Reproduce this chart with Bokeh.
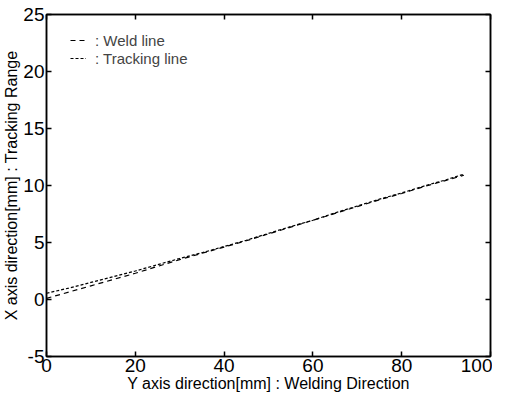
from bokeh.plotting import figure
from bokeh.models import LinearAxis, Range1d, FixedTicker, Legend, LegendItem
from bokeh.embed import file_html
from bokeh.resources import INLINE

# Data
x_pos = [0, 5, 10, 15, 20, 25, 30, 35, 40, 45, 50, 55, 60, 65, 70, 75, 80, 85, 90, 94]
weld_line = [0.1, 0.65, 1.2, 1.75, 2.3, 2.9, 3.5, 4.05, 4.6, 5.15, 5.75, 6.35,
             6.95, 7.55, 8.15, 8.75, 9.3, 9.9, 10.45, 10.9]
tracking_line = [0.55, 1.0, 1.5, 2.0, 2.5, 3.05, 3.6, 4.1, 4.65, 5.2, 5.8, 6.4,
                 6.95, 7.6, 8.2, 8.8, 9.35, 9.95, 10.5, 11.0]
x_ticks = [0, 20, 40, 60, 80, 100]
y_ticks = [-5, 0, 5, 10, 15, 20, 25]
labels = [": Weld line", ": Tracking line"]

FONT = "Liberation Sans"

p = figure(width=492, height=394, output_backend="svg", toolbar_location=None,
           x_range=Range1d(0, 100), y_range=Range1d(-5, 25),
           min_border_left=30, min_border_right=2, min_border_top=14, min_border_bottom=20)
p.grid.visible = False
p.outline_line_color = "black"
p.outline_line_width = 1.5
p.background_fill_color = "white"
p.border_fill_color = "white"

p.xaxis.ticker = FixedTicker(ticks=x_ticks)
p.yaxis.ticker = FixedTicker(ticks=y_ticks)
p.yaxis.major_label_overrides = {t: str(t) for t in y_ticks}
for ax in p.xaxis + p.yaxis:
    ax.major_tick_in = 5
    ax.major_tick_out = 0
    ax.minor_tick_in = 0
    ax.minor_tick_out = 0
    ax.axis_line_width = 1.5
    ax.major_tick_line_width = 1.5
    ax.major_label_text_font = FONT
    ax.major_label_text_font_size = "19px"
    ax.major_label_text_color = "black"
    ax.major_label_standoff = 2
    ax.axis_label_text_font = FONT
    ax.axis_label_text_font_size = "16px"
    ax.axis_label_text_font_style = "normal"
    ax.axis_label_text_color = "black"
    ax.axis_label_standoff = 0
p.xaxis.axis_label = "Y axis direction[mm] : Welding Direction"
p.yaxis.axis_label = "X axis direction[mm] : Tracking Range"

top = LinearAxis(ticker=FixedTicker(ticks=x_ticks))
right = LinearAxis(ticker=FixedTicker(ticks=y_ticks))
top.major_label_overrides = {t: "" for t in x_ticks}
right.major_label_overrides = {t: "" for t in y_ticks}
for ax in (top, right):
    ax.major_tick_in = 5
    ax.major_tick_out = 0
    ax.minor_tick_in = 0
    ax.minor_tick_out = 0
    ax.axis_line_width = 1.5
    ax.major_tick_line_width = 1.5
    ax.major_label_standoff = 0
p.add_layout(top, "above")
p.add_layout(right, "right")

r1 = p.line(x_pos, weld_line, line_color="black", line_width=1.2, line_dash="5 4")
r2 = p.line(x_pos, tracking_line, line_color="black", line_width=1.2, line_dash="3 2")

legend = Legend(items=[LegendItem(label=labels[0], renderers=[r1]),
                       LegendItem(label=labels[1], renderers=[r2])],
                location=(24, 289), margin=0, padding=0, spacing=0,
                glyph_width=16, glyph_height=18, label_height=18,
                label_standoff=9, border_line_color=None,
                background_fill_alpha=0,
                label_text_font=FONT, label_text_font_size="15px")
p.add_layout(legend, "center")

open("out.html", "w").write(file_html(p, INLINE))
